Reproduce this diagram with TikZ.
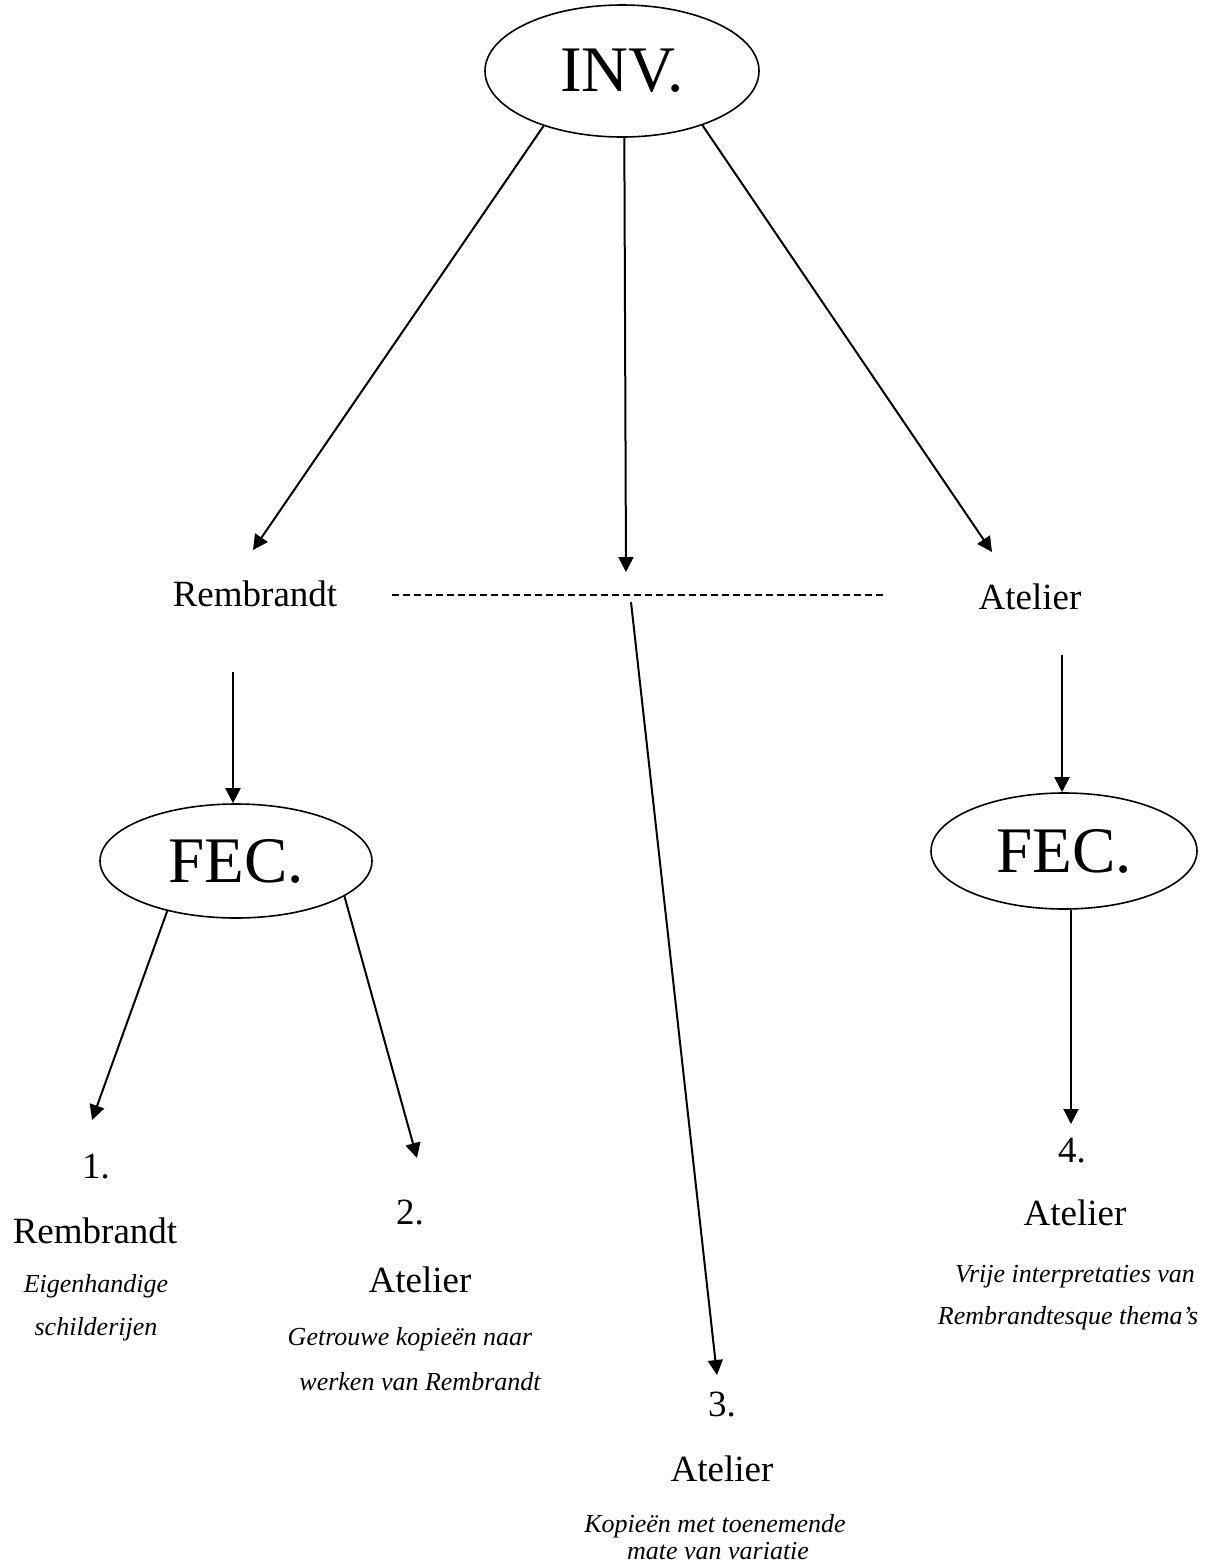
\documentclass[tikz,border=0pt]{standalone}
\usepackage{fontspec}
\setmainfont{Liberation Serif}
\usetikzlibrary{arrows.meta,shapes.geometric}
\begin{document}
\begin{tikzpicture}[x=0.5pt,y=-0.5pt,
  arr/.style={line width=1pt,-{Triangle[length=7.5pt,width=7.5pt]}},
  oval/.style={draw,ellipse,line width=0.8pt,inner sep=0pt,font=\fontsize{32.5}{38}\selectfont},
  lab/.style={anchor=base,inner sep=0pt,font=\fontsize{18.5}{22}\selectfont},
  desc/.style={anchor=base,inner sep=0pt,font=\fontsize{13}{16}\selectfont\itshape},
  dashline/.style={line width=1pt,dash pattern=on 3.5pt off 2pt}]
\useasboundingbox[fill=white] (0,0) rectangle (1223,1565);
% ovals
\node[oval,minimum width=137pt,minimum height=66pt] (inv) at (622,71) {INV.};
\node[oval,minimum width=136pt,minimum height=57pt] (fecL) at (236,861) {FEC.};
\node[oval,minimum width=133pt,minimum height=58pt] (fecR) at (1064,851) {FEC.};
% middle row
\node[lab] (remb) at (255,606) {Rembrandt};
\node[lab] (atel) at (1030,609) {Atelier};
\coordinate (dl) at (392,595);
\coordinate (dr) at (886,595);
% bottom groups
\node[lab] (n1) at (96,1178) {1.};
\node[lab] (n1a) at (95,1243) {Rembrandt};
\node[desc] (n1b) at (96,1292) {Eigenhandige};
\node[desc] (n1c) at (96,1335) {schilderijen};
\node[lab] (n2) at (410,1224) {2.};
\node[lab] (n2a) at (420,1292) {Atelier};
\node[desc] (n2b) at (410,1345) {Getrouwe kopieën naar};
\node[desc] (n2c) at (420,1390) {werken van Rembrandt};
\node[lab] (n3) at (722,1416) {3.};
\node[lab] (n3a) at (722,1481) {Atelier};
\node[desc] (n3b) at (715,1532) {Kopieën met toenemende};
\node[desc] (n3c) at (718,1559) {mate van variatie};
\node[lab] (n4) at (1072,1162) {4.};
\node[lab] (n4a) at (1075,1225) {Atelier};
\node[desc] (n4b) at (1075,1282) {Vrije interpretaties van};
\node[desc] (n4c) at (1068,1324) {Rembrandtesque thema’s};
% free ends
\coordinate (tRemb) at (253,550);
\coordinate (tMid) at (626,572);
\coordinate (tAtel) at (992,552);
\coordinate (sMid) at (631,602);
\coordinate (tThree) at (717,1375);
\coordinate (sRemb) at (233,672);
\coordinate (sAtel) at (1062,655);
\coordinate (tOne) at (92,1120);
\coordinate (tTwo) at (417,1158);
\coordinate (tFour) at (1071,1124);
% connectors
\draw[arr] (inv.215) -- (tRemb);
\draw[arr] (inv.-88) -- (tMid);
\draw[arr] (inv.-34) -- (tAtel);
\draw[dashline] (dl) -- (dr);
\draw[arr] (sMid) -- (tThree);
\draw[arr] (sRemb) -- (fecL.north -| sRemb);
\draw[arr] (sAtel) -- (fecR.north -| sAtel);
\draw[arr] (fecL.216) -- (tOne);
\draw[arr] (fecL.-18) -- (tTwo);
\draw[arr] (fecR.south -| tFour) -- (tFour);
\end{tikzpicture}
\end{document}
